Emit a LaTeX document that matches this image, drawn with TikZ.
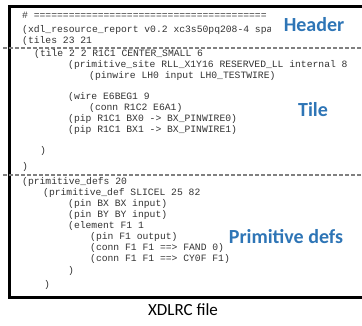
\documentclass[tikz,border=0pt]{standalone}
\usepackage{fontspec}
\setmainfont{Carlito}
\newfontfamily\codefont{Liberation Mono}[Ligatures=NoCommon]
\definecolor{labelblue}{HTML}{2E75B6}
\definecolor{rulegray}{HTML}{808080}
\definecolor{codeink}{HTML}{333333}
\begin{document}
\begin{tikzpicture}[x=1pt,y=-1pt,
  code/.style={anchor=west,inner sep=0pt,text height=7pt,text depth=2pt,
    font=\codefont\fontsize{9.7}{11}\selectfont,text=codeink},
  section/.style={inner sep=0pt,font=\fontsize{20}{22}\selectfont\bfseries,text=labelblue},
  divider/.style={draw=rulegray,line width=1.4pt,dash pattern=on 4pt off 2pt},
  frame/.style={draw=black,line width=3pt}]
\useasboundingbox (0,0) rectangle (362,325);

% file frame (open to the right)
\draw[frame] (370,6) -- (9,6) -- (9,297.5) -- (370,297.5);

% header block
\node[code] (h1) at (22,16) {\# ========================================};
\begin{scope}
  \clip (0,20) rectangle (270.5,36);
  \node[code] (h2) at (22,30) {(xdl\_resource\_report v0.2 xc3s50pq208-4 spa};
\end{scope}
\node[code] (h3) at (22,41) {(tiles 23 21};

\coordinate (d1a) at (3,48);
\coordinate (d1b) at (362,48);
\draw[divider] (d1a) -- (d1b);

% tile block
\node[code] (t1) at (34,54)  {(tile 2 2 R1C1 CENTER\_SMALL 6};
\node[code] (t2) at (68,65)  {(primitive\_site RLL\_X1Y16 RESERVED\_LL internal 8};
\node[code] (t3) at (89,76)  {(pinwire LH0 input LH0\_TESTWIRE)};
\node[code] (t4) at (68,97)  {(wire E6BEG1 9};
\node[code] (t5) at (89,108) {(conn R1C2 E6A1)};
\node[code] (t6) at (68,119) {(pip R1C1 BX0 -> BX\_PINWIRE0)};
\node[code] (t7) at (68,130) {(pip R1C1 BX1 -> BX\_PINWIRE1)};
\node[code] (t8) at (40,151) {)};
\node[code] (t9) at (22,167) {)};

\coordinate (d2a) at (3,175);
\coordinate (d2b) at (362,175);
\draw[divider] (d2a) -- (d2b);

% primitive definitions block
\node[code] (p1) at (22,182)  {(primitive\_defs 20};
\node[code] (p2) at (43,193)  {(primitive\_def SLICEL 25 82};
\node[code] (p3) at (68,204)  {(pin BX BX input)};
\node[code] (p4) at (68,215)  {(pin BY BY input)};
\node[code] (p5) at (68,226)  {(element F1 1};
\node[code] (p6) at (90,237)  {(pin F1 output)};
\node[code] (p7) at (90,248)  {(conn F1 F1 ==> FAND 0)};
\node[code] (p8) at (90,259)  {(conn F1 F1 ==> CY0F F1)};
\node[code] (p9) at (68,271)  {)};
\node[code] (p10) at (44,285) {)};

% section labels
\node[section] (lh) at (314,25)  {Header};
\node[section] (lt) at (313,110) {Tile};
\node[section] (lp) at (286,237) {Primitive defs};

% caption
\node[inner sep=0pt,font=\fontsize{17}{20}\selectfont] (cap) at (183,310) {XDLRC file};
\end{tikzpicture}
\end{document}
